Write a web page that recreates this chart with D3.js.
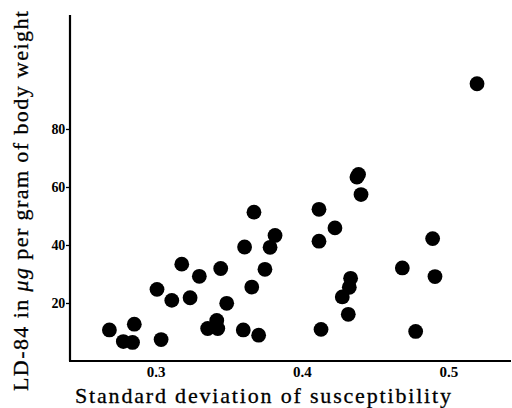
<!DOCTYPE html>
<html>
<head>
<meta charset="utf-8">
<script src="https://cdn.jsdelivr.net/npm/d3@7"></script>
<style>
  html, body { margin: 0; padding: 0; background: #fff; }
  svg { display: block; }
  text { font-family: "Liberation Serif", "DejaVu Serif", serif; fill: #000; }
</style>
</head>
<body>
<svg id="chart" width="512" height="408"></svg>
<script>
// Data
const sdValues = [0.2685, 0.2855, 0.2780, 0.2843, 0.3038, 0.3010, 0.3111, 0.3179, 0.3236, 0.3299,
                  0.3445, 0.3486, 0.3356, 0.3418, 0.3425, 0.3599, 0.3704, 0.3608, 0.3657, 0.3672,
                  0.3747, 0.3782, 0.3816, 0.4116, 0.4225, 0.4116, 0.4130, 0.4332, 0.4323, 0.4275,
                  0.4316, 0.4386, 0.4375, 0.4403, 0.4685, 0.4776, 0.4892, 0.4908, 0.5195];
const ldValues = [10.7, 12.7, 6.7, 6.4, 7.4, 24.7, 20.9, 33.4, 21.8, 29.2,
                  31.9, 19.9, 11.2, 14.0, 11.2, 10.7, 8.9, 39.3, 25.5, 51.3,
                  31.6, 39.2, 43.3, 52.3, 45.9, 41.3, 10.9, 28.5, 25.4, 22.1,
                  16.1, 64.3, 63.4, 57.4, 32.1, 10.2, 42.2, 29.1, 95.6];
const xTicks = [0.3, 0.4, 0.5];
const yTicks = [20, 40, 60, 80];
const xTitle = "Standard deviation of susceptibility";

const svg = d3.select("#chart");
const mLeft = 70, mRight = 511, mTop = 15, mBottom = 361;

const x = d3.scaleLinear().domain([0.2416, 0.5427]).range([mLeft, mRight]);
const y = d3.scaleLinear().domain([0, 119.3]).range([mBottom, mTop]);

// Y axis
const yAxis = d3.axisLeft(y).tickValues(yTicks).tickSize(4).tickPadding(1).tickFormat(d3.format("d"));
const gy = svg.append("g").attr("transform", `translate(${mLeft},0)`).call(yAxis)
  .attr("font-family", "Liberation Serif, serif").attr("font-size", 14);
gy.select(".domain").remove();
gy.selectAll(".tick line").attr("stroke", "#000").attr("stroke-width", 1.3);
gy.selectAll(".tick text").attr("font-weight", "bold").attr("fill", "#000")
  .attr("letter-spacing", -0.3);
svg.append("line").attr("x1", mLeft).attr("x2", mLeft).attr("y1", mTop).attr("y2", mBottom)
  .attr("stroke", "#000").attr("stroke-width", 2.2);

// X axis
const xAxis = d3.axisBottom(x).tickValues(xTicks).tickSize(0).tickPadding(5).tickFormat(d3.format(".1f"));
const gx = svg.append("g").attr("transform", `translate(0,${mBottom})`).call(xAxis)
  .attr("font-family", "Liberation Serif, serif").attr("font-size", 15);
gx.select(".domain").remove();
gx.selectAll(".tick text").attr("font-weight", "bold").attr("fill", "#000");
svg.append("line").attr("x1", mLeft - 1).attr("x2", mRight).attr("y1", mBottom).attr("y2", mBottom)
  .attr("stroke", "#000").attr("stroke-width", 2);

// Points
svg.append("g").selectAll("circle")
  .data(sdValues.map((v, i) => [v, ldValues[i]]))
  .join("circle")
  .attr("cx", d => x(d[0]))
  .attr("cy", d => y(d[1]))
  .attr("r", 7.4)
  .attr("fill", "#000");

// X title
svg.append("text")
  .attr("x", 75).attr("y", 403)
  .attr("font-size", 22)
  .attr("stroke", "#000").attr("stroke-width", 0.3)
  .attr("textLength", 376).attr("lengthAdjust", "spacing")
  .text(xTitle);

// Y title (rotated)
const yt = svg.append("text")
  .attr("transform", "translate(28,391) rotate(-90)")
  .attr("x", 0).attr("y", 0)
  .attr("font-size", 22)
  .attr("stroke", "#000").attr("stroke-width", 0.3)
  .attr("textLength", 380).attr("lengthAdjust", "spacing");
yt.append("tspan").text("LD-84 in ");
yt.append("tspan").attr("font-style", "italic").text("\u03bcg");
yt.append("tspan").text(" per gram of body weight");
</script>
</body>
</html>
